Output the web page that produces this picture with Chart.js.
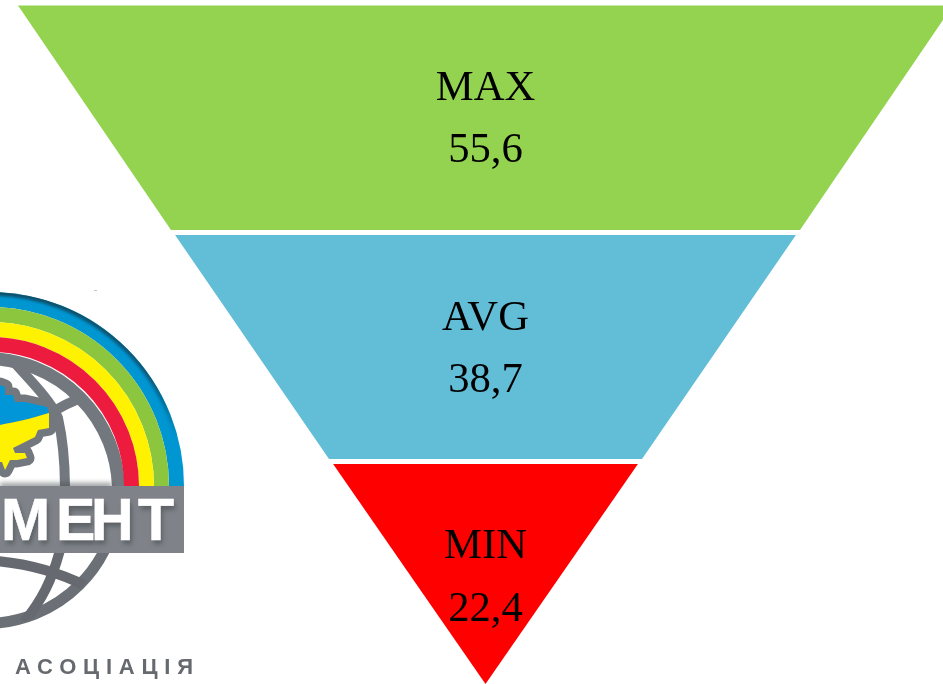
<!DOCTYPE html>
<html>
<head>
<meta charset="utf-8">
<title>Funnel</title>
<script src="https://cdn.jsdelivr.net/npm/chart.js@4"></script>
<style>
  html, body { margin: 0; padding: 0; background: #fff; overflow: hidden; }
  #wrap { position: relative; width: 943px; height: 684px; }
  #logo { position: absolute; left: 0; top: 0; pointer-events: none; }
</style>
</head>
<body>
<div id="wrap">
  <canvas id="funnel"></canvas>
  <!-- association logo, cut off by the left edge like in the slide -->
  <svg id="logo" width="943" height="684" viewBox="0 0 943 684">
    <defs>
      <linearGradient id="blueShade" gradientUnits="userSpaceOnUse" x1="0" y1="292" x2="0" y2="440">
        <stop offset="0" stop-color="#0b4a63"/>
        <stop offset="0.6" stop-color="#0b4a63" stop-opacity="0.8"/>
        <stop offset="1" stop-color="#0b4a63" stop-opacity="0"/>
      </linearGradient>
      <filter id="soft" x="-20%" y="-20%" width="140%" height="140%"><feGaussianBlur stdDeviation="0.55"/></filter>
      <filter id="shadeSmall" x="-20%" y="-20%" width="140%" height="140%"><feGaussianBlur stdDeviation="1.5"/></filter>
      <filter id="shade" x="-20%" y="-100%" width="140%" height="300%"><feGaussianBlur stdDeviation="2.5"/></filter>
      <clipPath id="upper"><rect x="0" y="280" width="200" height="206"/></clipPath>
      <clipPath id="lower"><rect x="0" y="553" width="200" height="90"/></clipPath>
      <clipPath id="globe"><circle cx="-14" cy="491" r="136"/></clipPath>
      <clipPath id="outer"><circle cx="-10" cy="486" r="194"/></clipPath>
    </defs>

    <g filter="url(#soft)">
      <g clip-path="url(#upper)">
        <circle cx="-14" cy="491" r="132.5" fill="#fff" stroke="#73787e" stroke-width="13"/>
        <g clip-path="url(#globe)" fill="none" stroke="#73787e" stroke-width="10">
          <path d="M12 360 C30 380 52 402 58 418 C63 440 65 460 65 490"/>
          <path d="M50 414 Q64 404 84 397"/>
        </g>
        <path d="M0 385 L5 387 L5 395 L13 395 L15 402 L25 402 L47 407 L49 413 L49 428 L38 430 L35 437 L13 448 L15 453 L25 453 L27 458 L17 460 L10 460 L5 470 L2 462 L0 462 Z"
              fill="#73787e" stroke="#73787e" stroke-width="15" stroke-linejoin="round"/>
        <path d="M0 385 L5 387 L5 395 L13 395 L15 402 L25 402 L47 407 L49 413 C30 419 15 422 0 425 Z" fill="#0096d8"/>
        <path d="M0 425 C15 422 30 419 49 413 L49 428 L38 430 L35 437 L13 448 L15 453 L25 453 L27 458 L17 460 L10 460 L5 470 L2 462 L0 462 Z" fill="#fff200"/>
      </g>
      <g clip-path="url(#lower)">
        <circle cx="-14" cy="491" r="132.5" fill="#fff" stroke="#6b6f75" stroke-width="11"/>
        <g clip-path="url(#globe)" fill="none" stroke="#666a70" stroke-width="10">
          <path d="M60 550 C52 580 42 600 24 622"/>
          <path d="M-4 561 C30 564 58 572 86 586"/>
        </g>
      </g>
    </g>

    <g clip-path="url(#upper)">
      <circle cx="-10" cy="486" r="186.5" fill="none" stroke="#0096d2" stroke-width="15"/>
      <g clip-path="url(#outer)">
        <circle cx="-10" cy="486" r="193" fill="none" stroke="url(#blueShade)" stroke-width="5" filter="url(#shadeSmall)"/>
      </g>
      <circle cx="-10" cy="486" r="171.5" fill="none" stroke="#8cc63f" stroke-width="15"/>
      <circle cx="-10" cy="486" r="156.5" fill="none" stroke="#fff200" stroke-width="15"/>
      <circle cx="-10" cy="486" r="141.5" fill="none" stroke="#ed1c3f" stroke-width="15"/>
      <rect x="0" y="483" width="112" height="6" fill="#45494e" opacity="0.55" filter="url(#shade)"/>
    </g>

    <rect x="0" y="486" width="184" height="67" fill="#7f8389"/>
    <text x="3 58 93 140" y="544" font-family="Liberation Sans" font-weight="700" font-size="59" fill="#33373b" opacity="0.5" filter="url(#shade)">МЕНТ</text>
    <text x="1 56 91 138" y="540" font-family="Liberation Sans" font-weight="700" font-size="59" fill="#fff" stroke="#fff" stroke-width="0.6">МЕНТ</text>
    <text x="15" y="674" font-family="Liberation Sans Narrow, Liberation Sans" font-weight="700" font-size="22" fill="#666a6f" textLength="178" lengthAdjust="spacing">АСОЦІАЦІЯ</text>
    <line x1="94" y1="290.5" x2="97" y2="290.5" stroke="#c4c4c4" stroke-width="1"/>
  </svg>
</div>

<script>
const categories = ['MAX', 'AVG', 'MIN'];
const values = [55.6, 38.7, 22.4];
const bandColors = ['#93D350', '#62BDD7', '#FF0000'];

// funnel rows, apex at 0 and top edge at 3, gaps included
const levelTop = [3, 1.985, 0.973];
const levelBottom = [2.007, 0.995, 0];
// half widths of the bands, 1 = top edge of the funnel
const widthTop = [1, 0.664, 0.326];
const widthBottom = [0.6727, 0.3348, 0];

function bandPoints(i) {
  return [
    { x: -widthTop[i], y: levelTop[i] },
    { x: widthTop[i], y: levelTop[i] },
    { x: widthBottom[i], y: levelBottom[i] },
    { x: -widthBottom[i], y: levelBottom[i] },
    { x: -widthTop[i], y: levelTop[i] },
  ];
}

// Category name and value in each band
const bandLabels = {
  id: 'bandLabels',
  afterDatasetsDraw(chart) {
    const { ctx, scales } = chart;
    ctx.save();
    ctx.fillStyle = '#000';
    ctx.font = '42.67px "Liberation Serif"';
    ctx.textAlign = 'center';
    ctx.textBaseline = 'alphabetic';
    categories.forEach((name, i) => {
      const x = scales.x.getPixelForValue(0);
      const top = scales.y.getPixelForValue(levelTop[i]);
      ctx.fillText(name, x, top + 94.5);
      ctx.fillText(values[i].toFixed(1).replace('.', ','), x, top + 157);
    });
    ctx.restore();
  },
};

new Chart(document.getElementById('funnel'), {
  type: 'scatter',
  data: {
    datasets: categories.map((name, i) => ({
      label: name,
      data: bandPoints(i),
      showLine: true,
      fill: 'shape',
      tension: 0,
      backgroundColor: bandColors[i],
      borderWidth: 0,
      pointRadius: 0,
    })),
  },
  options: {
    responsive: true,
    maintainAspectRatio: false,
    animation: false,
    layout: { padding: 0 },
    plugins: { legend: { display: false }, tooltip: { enabled: false } },
    scales: {
      x: { type: 'linear', display: false, min: -1.0385, max: 0.9786 },
      y: { type: 'linear', display: false, min: 0, max: 3.024 },
    },
  },
  plugins: [bandLabels],
});
</script>
</body>
</html>
